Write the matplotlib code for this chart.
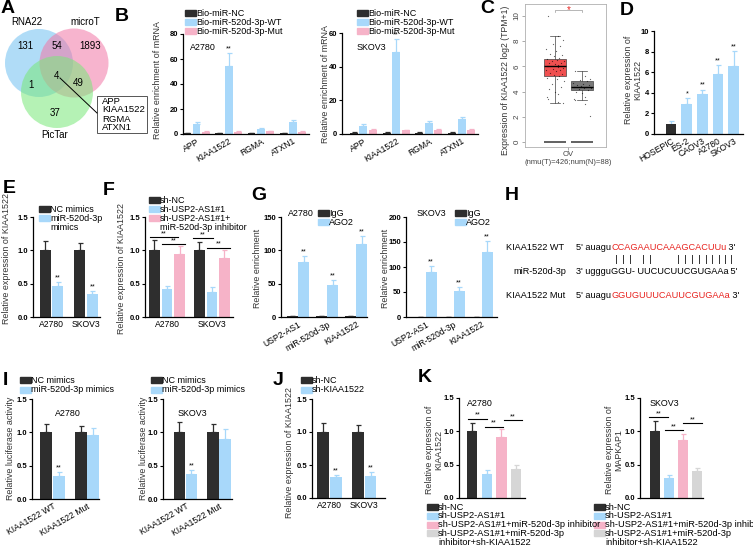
#!/usr/bin/env python3
"""Recreate the multi-panel figure (USP2-AS1 / miR-520d-3p / KIAA1522)."""
import numpy as np
import matplotlib
matplotlib.use("Agg")
import matplotlib.pyplot as plt
from matplotlib.patches import Circle, Rectangle
from matplotlib.lines import Line2D

W, H = 753, 557
plt.rcParams["font.family"] = ["Liberation Sans", "DejaVu Sans"]

BLACK = "#2e2e2e"
BLUE = "#a8d8fa"
PINK = "#f6b3c8"
GREY = "#d6d6d6"
RED = "#e8231f"

FS_LEG = 6.5     # legend text
FS_TICK = 6.2    # category tick labels
FS_YLAB = 6.4    # axis titles
FS_NUM = 5.5     # numeric tick labels

# ---------------- data ----------------
# A: Venn
venn_sets = ["RNA22", "microT", "PicTar"]
venn_counts = [131, 54, 1893, 4, 1, 49, 37]   # R, R&M, M, all, R&P, M&P, P
venn_genes = ["APP", "KIAA1522", "RGMA", "ATXN1"]

# B: pull-down
b_genes = ["APP", "KIAA1522", "RGMA", "ATXN1"]
b_series = ["Bio-miR-NC", "Bio-miR-520d-3p-WT", "Bio-miR-520d-3p-Mut"]
b_a2780_nc = [0.6, 0.6, 0.6, 0.6]
b_a2780_wt = [8.0, 54.5, 4.2, 9.6]
b_a2780_mut = [1.9, 2.0, 2.1, 1.9]
b_a2780_nc_err = [0.2, 0.2, 0.2, 0.2]
b_a2780_wt_err = [1.8, 10.0, 0.8, 2.0]
b_a2780_mut_err = [0.3, 0.3, 0.3, 0.3]
b_skov3_nc = [0.7, 0.7, 0.7, 0.7]
b_skov3_wt = [4.8, 49.0, 6.7, 8.9]
b_skov3_mut = [2.4, 2.3, 2.6, 2.4]
b_skov3_nc_err = [0.2, 0.2, 0.2, 0.2]
b_skov3_wt_err = [1.0, 7.3, 0.9, 1.2]
b_skov3_mut_err = [0.3, 0.3, 0.3, 0.3]

# C: GEPIA box plot (tumor vs normal)
c_tumor_box = [3.1, 5.2, 6.0, 6.6, 8.4]    # whislo, q1, med, q3, whishi
c_normal_box = [3.35, 4.1, 4.4, 4.8, 5.6]
c_tumor_pts = [10.0, 8.4, 8.1, 7.8, 7.6, 7.4, 7.2, 7.0, 6.9, 6.8, 6.7, 6.6, 6.5,
               6.45, 6.4, 6.3, 6.25, 6.2, 6.1, 6.05, 6.0, 5.95, 5.9, 5.8, 5.75,
               5.7, 5.6, 5.5, 5.4, 5.3, 5.2, 5.1, 5.0, 4.8, 4.6, 4.4, 4.2, 4.0,
               3.8, 3.6, 3.4, 3.2, 3.1]
c_normal_pts = [5.6, 5.2, 5.0, 4.9, 4.8, 4.7, 4.6, 4.55, 4.5, 4.45, 4.4, 4.35,
                4.3, 4.25, 4.2, 4.1, 4.0, 3.9, 3.6, 3.4, 3.35, 3.0, 2.1]
c_jitter = [-0.25, 0.12, 0.3, -0.08, 0.2, -0.32, 0.05, -0.18, 0.27, -0.02,
            0.15, -0.28, 0.08, 0.34, -0.12, 0.22, -0.22, 0.0, 0.1, -0.3]

# D: cell lines
d_cells = ["HOSEPIC", "ES-2", "CAOV3", "A2780", "SKOV3"]
d_vals = [1.0, 2.9, 3.85, 5.8, 6.65]
d_errs = [0.25, 0.6, 0.45, 0.9, 1.4]
d_sig = ["", "*", "**", "**", "**"]

# E: mimics
e_groups = ["A2780", "SKOV3"]
e_nc = [1.0, 1.0]
e_nc_err = [0.14, 0.11]
e_mim = [0.46, 0.34]
e_mim_err = [0.07, 0.05]

# F: sh-USP2-AS1 + inhibitor
f_series = ["sh-NC", "sh-USP2-AS1#1", "sh-USP2-AS1#1+\nmiR-520d-3p inhibitor"]
f_nc = [1.0, 1.0]
f_nc_err = [0.16, 0.12]
f_sh = [0.42, 0.38]
f_sh_err = [0.05, 0.07]
f_inh = [0.94, 0.89]
f_inh_err = [0.12, 0.11]

# G: RIP
g_targets = ["USP2-AS1", "miR-520d-3p", "KIAA1522"]
g_a2780_igg = [1.0, 1.0, 1.0]
g_a2780_ago2 = [82, 48, 110]
g_a2780_err = [10, 7, 12]
g_skov3_igg = [1.0, 1.0, 1.0]
g_skov3_ago2 = [90, 53, 130]
g_skov3_err = [13, 7, 23]

# H: sequences
h_wt = ("5' auagu", "CCAGAAUCAAAGCACUUu", " 3'")
h_mir = ("3' ugggu", "GGU- UUCUCUUCGUGAAa", " 5'")
h_mut = ("5' auagu", "GGUGUUUCAUUCGUGAAa", " 3'")

# I: luciferase
i_constructs = ["KIAA1522 WT", "KIAA1522 Mut"]
i_a2780_nc = [1.0, 1.0]
i_a2780_nc_err = [0.13, 0.09]
i_a2780_mim = [0.35, 0.96]
i_a2780_mim_err = [0.05, 0.11]
i_skov3_nc = [1.0, 1.0]
i_skov3_nc_err = [0.16, 0.12]
i_skov3_mim = [0.37, 0.9]
i_skov3_mim_err = [0.06, 0.15]

# J: sh-KIAA1522
j_nc = [1.0, 1.0]
j_nc_err = [0.14, 0.1]
j_sh = [0.32, 0.34]
j_sh_err = [0.03, 0.06]

# K: rescue
k_series = ["sh-NC", "sh-USP2-AS1#1", "sh-USP2-AS1#1+miR-520d-3p inhibitor",
            "sh-USP2-AS1#1+miR-520d-3p\ninhibitor+sh-KIAA1522"]
k_a2780 = [1.0, 0.36, 0.91, 0.44]
k_a2780_err = [0.13, 0.06, 0.12, 0.06]
k_skov3 = [1.0, 0.30, 0.87, 0.41]
k_skov3_err = [0.16, 0.04, 0.09, 0.04]

# ---------------- helpers ----------------
fig = plt.figure(figsize=(W / 100, H / 100), dpi=100)


def axes_px(x0, y0, x1, y1):
    return fig.add_axes([x0 / W, 1 - y1 / H, (x1 - x0) / W, (y1 - y0) / H])


def ftext(x, y, s, **kw):
    return fig.text(x / W, 1 - y / H, s, **kw)


def letter(x, y, s):
    ftext(x, y, s, fontsize=14, fontweight="bold", va="baseline")


def legend_px(x, y, labels, colors, dy=9.0, size=FS_LEG):
    for i, (lab, c) in enumerate(zip(labels, colors)):
        yy = y + i * dy
        fig.patches.append(Rectangle((x / W, 1 - (yy + 3) / H), 11 / W, 6 / H,
                                     transform=fig.transFigure, color=c))
        ftext(x + 11, yy - 4.3, lab, fontsize=size, va="top", linespacing=1.05)


def ylabel_px(x, y, s, size=FS_YLAB):
    ftext(x, y, s, fontsize=size, rotation=90, ha="center", va="center",
          color="#333333", linespacing=1.05)


def bar_axes(box, xlim, ymax, yticks, fmt):
    ax = axes_px(*box)
    ax.set_xlim(*xlim)
    ax.set_ylim(0, ymax)
    for s in ("top", "right"):
        ax.spines[s].set_visible(False)
    for s in ("left", "bottom"):
        ax.spines[s].set_linewidth(0.9)
    ax.set_yticks(yticks)
    ax.set_yticklabels([fmt.format(t) for t in yticks], fontsize=FS_NUM,
                       fontweight="bold")
    ax.tick_params(axis="y", length=2.5, width=0.8, pad=1)
    ax.tick_params(axis="x", length=0, pad=2, labelsize=FS_TICK)
    return ax


def draw_bars(ax, centers, series, errs, colors, offsets, width):
    centers = np.asarray(centers, dtype=float)
    for vals, e, c, off in zip(series, errs, colors, offsets):
        x = centers + off
        ax.bar(x, vals, width, color=c, zorder=2)
        ax.errorbar(x, vals, yerr=[np.zeros(len(vals)), e], fmt="none",
                    ecolor=c, elinewidth=0.9, capsize=1.8, capthick=0.9,
                    zorder=1)


def stars(ax, x, y, s="**", size=5.2):
    ax.text(x, y, s, ha="center", va="bottom", fontsize=size)


def bracket(ax, x0, x1, y, s="**"):
    ax.plot([x0, x1], [y, y], color="black", lw=0.8, clip_on=False)
    ax.text((x0 + x1) / 2, y, s, ha="center", va="bottom", fontsize=5.2)


def xrot(ax, labels, rot=30, size=FS_TICK):
    ax.set_xticks(range(len(labels)))
    ax.set_xticklabels(labels, rotation=rot, ha="right",
                       rotation_mode="anchor", fontsize=size)


# ---------------- A ----------------
letter(1, 13, "A")
axA = axes_px(0, 0, 180, 180)
axA.set_xlim(0, 180)
axA.set_ylim(180, 0)
axA.axis("off")
for (cx, cy, r), col in zip([(39, 63, 34), (74, 63, 34.5), (57, 92, 36)],
                            ["#6fc0f2", "#f277a6", "#79e879"]):
    axA.add_patch(Circle((cx, cy), r, facecolor=col, alpha=0.55, lw=0))
for (x, y), n in zip([(25, 46), (57, 46), (90, 46), (56, 76), (31, 85),
                      (78, 83), (55, 113)], venn_counts):
    axA.text(x, y, str(n), ha="center", va="center", fontsize=7)
for (x, y), s in zip([(27, 22), (85, 22), (55, 135)], venn_sets):
    axA.text(x, y, s, ha="center", va="center", fontsize=7)
axA.plot([60, 97], [78, 113], color="black", lw=0.7)
axA.add_patch(Rectangle((97, 96), 50, 37, facecolor="white",
                        edgecolor="#555555", lw=0.7))
for i, g in enumerate(venn_genes):
    axA.text(102, 101 + i * 9, g, va="center", fontsize=6.8)

# ---------------- B ----------------
letter(115, 21, "B")
b_cols = [BLACK, BLUE, PINK]
b_off = [-0.29, 0.0, 0.29]
axB1 = bar_axes((183, 34, 309, 134), (-0.42, 3.5), 80, [0, 20, 40, 60, 80],
                "{:.0f}")
draw_bars(axB1, range(4), [b_a2780_nc, b_a2780_wt, b_a2780_mut],
          [b_a2780_nc_err, b_a2780_wt_err, b_a2780_mut_err], b_cols, b_off,
          0.24)
stars(axB1, 1, b_a2780_wt[1] + b_a2780_wt_err[1] + 1)
xrot(axB1, b_genes)
ylabel_px(158, 80, "Relative enrichment of mRNA")
legend_px(185, 13, b_series, b_cols)
ftext(190, 48, "A2780", fontsize=6.4, va="center")

axB2 = bar_axes((342, 33, 478, 134), (-0.65, 3.5), 60, [0, 20, 40, 60],
                "{:.0f}")
draw_bars(axB2, range(4), [b_skov3_nc, b_skov3_wt, b_skov3_mut],
          [b_skov3_nc_err, b_skov3_wt_err, b_skov3_mut_err], b_cols, b_off,
          0.24)
stars(axB2, 1, b_skov3_wt[1] + b_skov3_wt_err[1] + 0.5)
xrot(axB2, b_genes)
ylabel_px(325, 84, "Relative enrichment of mRNA")
legend_px(357, 13, b_series, b_cols)
ftext(357, 48, "SKOV3", fontsize=6.4, va="center")

# ---------------- C ----------------
letter(480, 13, "C")
axC = axes_px(525, 4, 606, 147)
axC.set_xlim(-0.11, 2.89)
axC.set_ylim(-0.4, 10.95)
for s in axC.spines.values():
    s.set_color("#b0b0b0")
    s.set_linewidth(0.6)
stats = []
for box in (c_tumor_box, c_normal_box):
    stats.append(dict(whislo=box[0], q1=box[1], med=box[2], q3=box[3],
                      whishi=box[4], fliers=[]))
bp = axC.bxp(stats, positions=[1, 2], widths=0.78, patch_artist=True,
             showfliers=False, manage_ticks=False,
             medianprops=dict(color="black", lw=1.0),
             whiskerprops=dict(color="#444444", lw=0.5),
             capprops=dict(color="#444444", lw=0.5),
             boxprops=dict(edgecolor="#444444", lw=0.5))
for patch, col in zip(bp["boxes"], ["#f05050", "#7a7a7a"]):
    patch.set_facecolor(col)
for pos, pts in ((1, c_tumor_pts), (2, c_normal_pts)):
    jit = np.resize(c_jitter, len(pts))
    axC.scatter(pos + jit, pts, s=0.8, color="black", alpha=0.6, lw=0,
                zorder=3)
axC.hlines([0, 0], [0.61, 1.61], [1.39, 2.39], color="#555555", lw=1.3)
axC.plot([1, 1, 2, 2], [10.3, 10.5, 10.5, 10.3], color="#9a9a9a", lw=0.5)
axC.text(1.5, 10.5, "*", color=RED, ha="center", va="center", fontsize=7)
axC.set_yticks([0, 2, 4, 6, 8, 10])
axC.set_yticklabels(["0", "2", "4", "6", "8", "10"], rotation=90,
                    va="center", fontsize=5.8, color="#444444")
axC.set_xticks([1.5])
axC.set_xticklabels(["OV\n(nmu(T)=426;num(N)=88)"], fontsize=5.5,
                    color="#444444", linespacing=1.2)
axC.tick_params(length=2, width=0.5, color="#888888", pad=1)
ylabel_px(506, 80, "Expression of KIAA1522 log2 (TPM+1)", size=6.2)

# ---------------- D ----------------
letter(620, 15, "D")
axD = bar_axes((654, 31, 743, 134), (-1.1, 4.6), 10, [0, 2, 4, 6, 8, 10],
               "{:.0f}")
draw_bars(axD, range(5), [d_vals], [d_errs], [BLUE], [0.0], 0.68)
axD.patches[0].set_facecolor(BLACK)
for i, (v, e, s) in enumerate(zip(d_vals, d_errs, d_sig)):
    if s:
        stars(axD, i, v + e + 0.1, s)
xrot(axD, d_cells)
ylabel_px(633, 80, "Relative expression of\nKIAA1522")

# ---------------- E ----------------
letter(3, 193, "E")
axE = bar_axes((33, 217, 100, 317), (-0.53, 1.4), 1.5, [0, 0.5, 1.0, 1.5],
               "{:.1f}")
draw_bars(axE, range(2), [e_nc, e_mim], [e_nc_err, e_mim_err],
          [BLACK, BLUE], [-0.18, 0.18], 0.32)
for i in range(2):
    stars(axE, i + 0.18, e_mim[i] + e_mim_err[i] + 0.01)
axE.set_xticks(range(2))
axE.set_xticklabels(e_groups)
ylabel_px(7, 258, "Relative expression of KIAA1522")
legend_px(39, 209, ["NC mimics", "miR-520d-3p\nmimics"], [BLACK, BLUE])

# ---------------- F ----------------
letter(103, 195, "F")
axF = bar_axes((145, 217, 233, 317), (-0.49, 1.47), 1.5, [0, 0.5, 1.0, 1.5],
               "{:.1f}")
draw_bars(axF, range(2), [f_nc, f_sh, f_inh], [f_nc_err, f_sh_err, f_inh_err],
          [BLACK, BLUE, PINK], [-0.28, 0.0, 0.28], 0.24)
bracket(axF, -0.38, 0.24, 1.2)
bracket(axF, -0.11, 0.4, 1.09)
bracket(axF, 0.58, 1.02, 1.18)
bracket(axF, 0.89, 1.4, 1.04)
axF.set_xticks(range(2))
axF.set_xticklabels(e_groups)
ylabel_px(122, 268, "Relative expression of KIAA1522")
legend_px(149, 200, f_series, [BLACK, BLUE, PINK])

# ---------------- G ----------------
letter(251, 200, "G")
axG1 = bar_axes((281, 217, 367, 317), (-0.59, 2.38), 150, [0, 50, 100, 150],
                "{:.0f}")
draw_bars(axG1, range(3), [g_a2780_igg, g_a2780_ago2], [[0, 0, 0], g_a2780_err],
          [BLACK, BLUE], [-0.2, 0.2], 0.38)
for i in range(3):
    stars(axG1, i + 0.2, g_a2780_ago2[i] + g_a2780_err[i] + 1)
xrot(axG1, g_targets)
ylabel_px(258, 268, "Relative enrichment")
ftext(288, 213, "A2780", fontsize=6.4, va="center")
legend_px(318, 213, ["IgG", "AGO2"], [BLACK, BLUE])

axG2 = bar_axes((406, 217, 497, 317), (-0.7, 2.55), 200,
                [0, 50, 100, 150, 200], "{:.0f}")
draw_bars(axG2, range(3), [g_skov3_igg, g_skov3_ago2], [[0, 0, 0], g_skov3_err],
          [BLACK, BLUE], [-0.2, 0.2], 0.38)
for i in range(3):
    stars(axG2, i + 0.2, g_skov3_ago2[i] + g_skov3_err[i] + 1)
xrot(axG2, g_targets)
ylabel_px(385, 268, "Relative enrichment")
ftext(417, 213, "SKOV3", fontsize=6.4, va="center")
legend_px(455, 213, ["IgG", "AGO2"], [BLACK, BLUE])

# ---------------- H ----------------
letter(505, 200, "H")
renderer = fig.canvas.get_renderer()
FS_SEQ = 6.6


def seq_line(x, y, label, lx, parts, colors):
    ftext(lx, y, label, fontsize=FS_SEQ, va="center")
    for s, c in zip(parts, colors):
        t = ftext(x, y, s, fontsize=FS_SEQ, va="center", color=c)
        x += t.get_window_extent(renderer).width


seq_line(576, 248, "KIAA1522 WT", 506, h_wt, ["black", RED, "black"])
seq_line(576, 271, "miR-520d-3p", 513, h_mir, ["black", "black", "black"])
seq_line(576, 295, "KIAA1522 Mut", 506, h_mut, ["black", RED, "black"])
for px in [616, 623, 630, 643, 650, 678, 685, 692, 699, 706, 712, 719, 725,
           731]:
    fig.add_artist(Line2D([px / W, px / W], [1 - 255 / H, 1 - 263 / H],
                          color="#333333", lw=0.7))

# ---------------- I ----------------
letter(3, 385, "I")
i_cols = [BLACK, BLUE]
axI1 = bar_axes((32, 399, 99, 499), (-0.59, 1.35), 1.5, [0, 0.5, 1.0, 1.5],
                "{:.1f}")
draw_bars(axI1, range(2), [i_a2780_nc, i_a2780_mim],
          [i_a2780_nc_err, i_a2780_mim_err], i_cols, [-0.18, 0.18], 0.35)
stars(axI1, 0.18, i_a2780_mim[0] + i_a2780_mim_err[0] + 0.01)
xrot(axI1, i_constructs)
ylabel_px(11, 448, "Relative luciferase activity")
ftext(68, 413, "A2780", fontsize=6.4, ha="center", va="center")
legend_px(20, 380, ["NC mimics", "miR-520d-3p mimics"], i_cols, dy=9.5)

axI2 = bar_axes((163, 399, 232, 499), (-0.67, 1.39), 1.5, [0, 0.5, 1.0, 1.5],
                "{:.1f}")
draw_bars(axI2, range(2), [i_skov3_nc, i_skov3_mim],
          [i_skov3_nc_err, i_skov3_mim_err], i_cols, [-0.18, 0.18], 0.35)
stars(axI2, 0.18, i_skov3_mim[0] + i_skov3_mim_err[0] + 0.01)
xrot(axI2, i_constructs)
ylabel_px(143, 448, "Relative luciferase activity")
ftext(192, 413, "SKOV3", fontsize=6.4, ha="center", va="center")
legend_px(151, 380, ["NC mimics", "miR-520d-3p mimics"], i_cols, dy=9.5)

# ---------------- J ----------------
letter(273, 385, "J")
axJ = bar_axes((312, 399, 385, 498), (-0.5, 1.59), 1.5, [0, 0.5, 1.0, 1.5],
               "{:.1f}")
draw_bars(axJ, range(2), [j_nc, j_sh], [j_nc_err, j_sh_err], [BLACK, BLUE],
          [-0.18, 0.18], 0.33)
for i in range(2):
    stars(axJ, i + 0.18, j_sh[i] + j_sh_err[i] + 0.01)
axJ.set_xticks(range(2))
axJ.set_xticklabels(e_groups)
ylabel_px(290, 453, "Relative expression of KIAA1522")
legend_px(301, 380, ["sh-NC", "sh-KIAA1522"], [BLACK, BLUE], dy=9.5)

# ---------------- K ----------------
letter(418, 382, "K")
k_cols = [BLACK, BLUE, PINK, GREY]
axK1 = bar_axes((459, 398, 525, 498), (-0.88, 3.6), 1.5, [0, 0.5, 1.0, 1.5],
                "{:.1f}")
for i, (v, e, c) in enumerate(zip(k_a2780, k_a2780_err, k_cols)):
    draw_bars(axK1, [i], [[v]], [[e]], [c], [0.0], 0.7)
bracket(axK1, -0.27, 1.03, 1.19)
bracket(axK1, 0.88, 2.1, 1.07)
bracket(axK1, 2.18, 3.4, 1.17)
ylabel_px(434, 450, "Relative expression of\nKIAA1522")
ftext(467, 403, "A2780", fontsize=6.4, va="center")
axK1.set_xticks([])
legend_px(427, 507, k_series, k_cols, dy=8.8, size=6.7)

axK2 = bar_axes((640, 398, 703, 498), (-1.04, 3.4), 1.5, [0, 0.5, 1.0, 1.5],
                "{:.1f}")
for i, (v, e, c) in enumerate(zip(k_skov3, k_skov3_err, k_cols)):
    draw_bars(axK2, [i], [[v]], [[e]], [c], [0.0], 0.7)
bracket(axK2, -0.4, 0.9, 1.21)
bracket(axK2, 0.7, 2.0, 1.02)
bracket(axK2, 1.98, 3.3, 1.12)
ylabel_px(614, 450, "Relative expression of\nMAPKAP1")
ftext(650, 403, "SKOV3", fontsize=6.4, va="center")
axK2.set_xticks([])
legend_px(594, 507, k_series, k_cols, dy=8.8, size=6.7)

fig.savefig("out.png", dpi=100)
